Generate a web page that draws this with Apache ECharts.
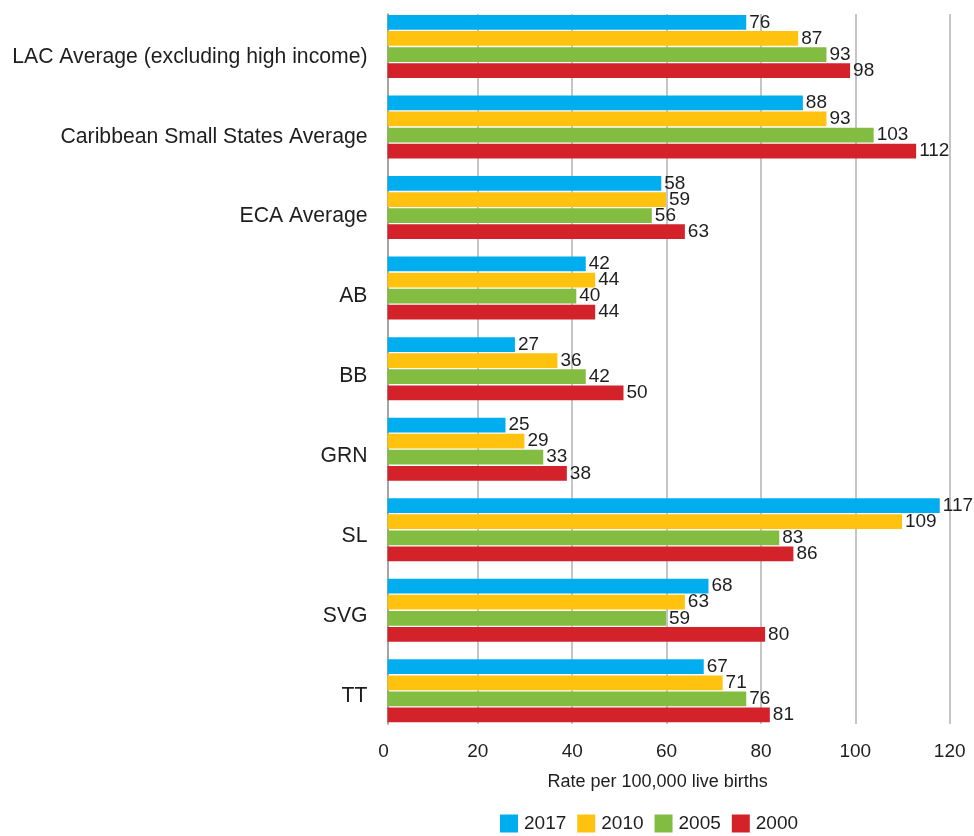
<!DOCTYPE html>
<html>
<head>
<meta charset="utf-8">
<title>Maternal mortality ratio</title>
<script src="https://cdn.jsdelivr.net/npm/echarts@6/dist/echarts.min.js"></script>
<style>
  html, body { margin: 0; padding: 0; background: #ffffff; }
  #chart { width: 974px; height: 836px; }
</style>
</head>
<body>
<div id="chart"></div>
<script>
// Countries and regional averages, listed top to bottom
const categories = [
  'LAC Average (excluding high income)',
  'Caribbean Small States Average',
  'ECA Average',
  'AB',
  'BB',
  'GRN',
  'SL',
  'SVG',
  'TT'
];

// Years shown, in legend order
const years = ['2017', '2010', '2005', '2000'];

// Rate per 100,000 live births
const values2017 = [76, 88, 58, 42, 27, 25, 117, 68, 67];
const values2010 = [87, 93, 59, 44, 36, 29, 109, 63, 71];
const values2005 = [93, 103, 56, 40, 42, 33, 83, 59, 76];
const values2000 = [98, 112, 63, 44, 50, 38, 86, 80, 81];

// Value axis ticks
const xTicks = [0, 20, 40, 60, 80, 100, 120];

const seriesValues = [values2017, values2010, values2005, values2000];
const colors = ['#00AEEF', '#FFC20E', '#82BC41', '#D3222A'];

const FONT = "'Liberation Sans', Arial, Helvetica, sans-serif";
const TEXT = '#1e1e1e';
const xMin = xTicks[0];
const xMax = xTicks[xTicks.length - 1];
const xStep = xTicks[1] - xTicks[0];

const chart = echarts.init(document.getElementById('chart'), null, { renderer: 'canvas' });

const option = {
  animation: false,
  backgroundColor: '#ffffff',
  textStyle: { fontFamily: FONT, color: TEXT },
  color: colors,
  legend: {
    data: years,
    left: 500,
    top: 814,
    padding: 0,
    icon: 'rect',
    itemWidth: 18,
    itemHeight: 18,
    itemGap: 11,
    textStyle: { fontFamily: FONT, fontSize: 19, color: TEXT, padding: [0, 0, 0, 1] }
  },
  grid: [
    // bars
    { left: 387.5, width: 566.4, top: 6.2, height: 724.9, containLabel: false },
    // value axis, gridlines and category axis line
    { left: 383.5, width: 566.2, top: 14, height: 710, containLabel: false },
    // category labels
    { left: 383.5, width: 566.2, top: 16.8, height: 719.3, containLabel: false }
  ],
  xAxis: [
    { gridIndex: 0, type: 'value', min: xMin, max: xMax, interval: xStep, show: false },
    {
      gridIndex: 1, type: 'value', min: xMin, max: xMax, interval: xStep,
      axisLine: { show: false },
      axisTick: { show: false },
      splitLine: { show: true, showMinLine: false, lineStyle: { color: '#b2b2b2', width: 1.5 } },
      axisLabel: { fontFamily: FONT, fontSize: 19, color: TEXT, margin: 18 },
      name: 'Rate per 100,000 live births',
      nameLocation: 'middle',
      nameGap: 49,
      nameTextStyle: { fontFamily: FONT, fontSize: 18, color: TEXT, padding: [0, 18, 0, 0] }
    },
    { gridIndex: 2, type: 'value', min: xMin, max: xMax, show: false }
  ],
  yAxis: [
    { gridIndex: 0, type: 'category', data: categories, inverse: true, show: false },
    {
      gridIndex: 1, type: 'category', data: categories, inverse: true,
      offset: -4,
      axisLine: { show: true, lineStyle: { color: '#878787', width: 1.5 } },
      axisTick: { show: false },
      axisLabel: { show: false },
      splitLine: { show: false }
    },
    {
      gridIndex: 2, type: 'category', data: categories, inverse: true,
      axisLine: { show: false },
      axisTick: { show: false },
      splitLine: { show: false },
      axisLabel: { fontFamily: FONT, fontSize: 21.2, color: TEXT, margin: 16 }
    }
  ],
  series: years.map((y, i) => ({
    name: y,
    type: 'bar',
    xAxisIndex: 0,
    yAxisIndex: 0,
    data: seriesValues[i],
    barGap: '9%',
    barCategoryGap: '21.8%',
    itemStyle: { color: colors[i] },
    label: {
      show: true,
      position: 'right',
      distance: 3,
      fontFamily: FONT,
      fontSize: 19,
      color: TEXT
    }
  }))
};

chart.setOption(option);
</script>
</body>
</html>
